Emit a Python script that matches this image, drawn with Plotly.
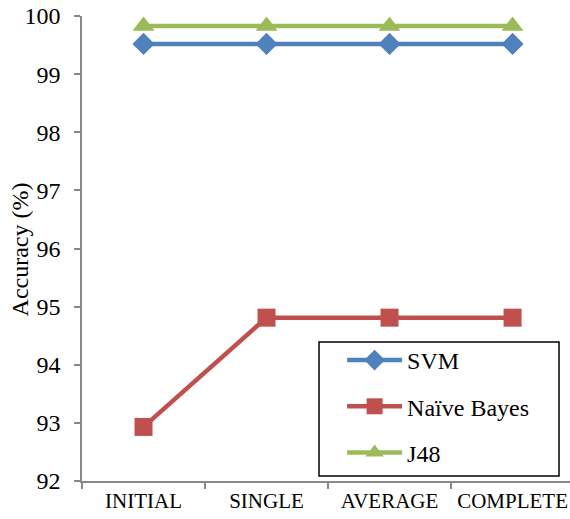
import plotly.graph_objects as go

categories = ["INITIAL", "SINGLE", "AVERAGE", "COMPLETE"]
svm = [99.52, 99.52, 99.52, 99.52]
naive_bayes = [92.93, 94.81, 94.81, 94.81]
j48 = [99.83, 99.83, 99.83, 99.83]
y_ticks = [92, 93, 94, 95, 96, 97, 98, 99, 100]

FONT = "Liberation Serif"

fig = go.Figure()
series = [
    ("SVM", svm, "#4F81BD", "diamond", 17),
    ("Naïve Bayes", naive_bayes, "#C0504D", "square", 18),
    ("J48", j48, "#9BBB59", "triangle-up", 19),
]
for i, (name, vals, color, sym, size) in enumerate(series):
    fig.add_trace(go.Scatter(
        x=categories, y=vals, name=name, mode="lines+markers",
        line=dict(color=color, width=4.5),
        marker=dict(symbol=sym, size=size, color=color),
        legendgroup=f"g{i}",
    ))

# legend frame
fig.add_shape(type="rect", xref="paper", yref="paper",
              x0=0.4857, x1=0.9775, y0=0.0108, y1=0.2989,
              line=dict(color="black", width=1.5), fillcolor="white", layer="below")

# y-axis title
fig.add_annotation(text="Accuracy (%)", textangle=-90, xref="paper", yref="paper",
                   x=-0.127, y=0.498, xanchor="center", yanchor="middle",
                   showarrow=False, font=dict(family=FONT, size=24, color="black"))

fig.update_layout(
    width=570, height=519,
    margin=dict(l=82, r=0, t=16, b=38),
    plot_bgcolor="white", paper_bgcolor="white",
    font=dict(family=FONT, size=20, color="black"),
    showlegend=True,
    legend=dict(
        x=0.533, y=0.3075, xanchor="left", yanchor="top",
        borderwidth=0, bgcolor="rgba(0,0,0,0)",
        tracegroupgap=12, font=dict(family=FONT, size=24),
        itemwidth=55,
    ),
    xaxis=dict(
        type="category", range=[-0.5, 3.467],
        showline=True, linecolor="#888888", linewidth=1.5,
        ticks="outside", tickson="boundaries", ticklen=6, tickcolor="#888888",
        tickwidth=1.5, showgrid=False, zeroline=False,
        tickfont=dict(family=FONT, size=21),
    ),
    yaxis=dict(
        range=[92, 100], tickvals=y_ticks,
        showline=True, linecolor="#888888", linewidth=1.5,
        ticks="outside", ticklen=6, tickcolor="#888888", tickwidth=1.5,
        showgrid=False, zeroline=False,
        ticklabelstandoff=9,
        tickfont=dict(family=FONT, size=24),
    ),
)

fig.write_html("out.html", config={"displayModeBar": False},
               post_script="document.body.style.margin='0';")
